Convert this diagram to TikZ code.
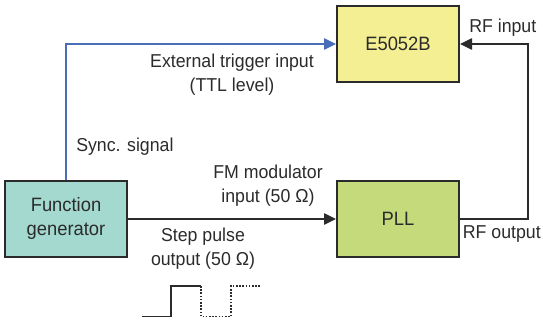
\documentclass[tikz,border=0pt]{standalone}
\usepackage{fontspec}
\setmainfont[FakeStretch=0.95]{Liberation Sans}
\usepackage{xcolor}
\usepackage{tikz}
\usetikzlibrary{arrows.meta,positioning}

\definecolor{boxline}{HTML}{2B2B2B}
\definecolor{analyzerfill}{HTML}{F3EF92}
\definecolor{pllfill}{HTML}{C5DA7B}
\definecolor{genfill}{HTML}{A4D9D0}
\definecolor{syncblue}{HTML}{4A6DB8}

\begin{document}
\begin{tikzpicture}[
    x=0.75pt, y=-0.75pt,
    block/.style={draw=boxline, line width=1.5pt, align=center, minimum width=91.5pt, minimum height=57pt, inner sep=0pt, text=boxline, font=\fontsize{14.5}{18}\selectfont},
    lbl/.style={align=center, inner sep=0pt, text=boxline, font=\fontsize{14}{18}\selectfont},
    arr/.style={-{Triangle[length=9pt,width=8.5pt]}, line width=1.1pt, draw=boxline}
]
\useasboundingbox (0,0) rectangle (543,321);

\node[block, fill=analyzerfill] (e5052b) at (398,44) {E5052B};
\node[block, fill=pllfill] (pll) at (398,219) {PLL};
\node[block, fill=genfill] (gen) at (66,219) {Function\\generator};

\draw[arr, color=syncblue] (gen.north) |- (e5052b.west);
\draw[arr] (gen.east) -- (pll.west);
\draw[arr] (pll.east) -- ++(68,0) |- (e5052b.east);

\node[lbl] (trig) at (232,75) {External trigger input\\(TTL level)};
\node[lbl, anchor=west] (sync) at (76,147) {Sync. signal};
\node[lbl] (fm) at (268,186) {FM modulator\\input (50 Ω)};
\node[lbl] (step) at (203,249) {Step pulse\\output (50 Ω)};
\node[lbl, anchor=west] (rfin) at (469,28) {RF input};
\node[lbl, anchor=east] (rfout) at (541,234) {RF output};

% step pulse sketch
\draw[line width=1.2pt, boxline] (142,316.5) -- (171,316.5) -- (171,286) -- (201,286);
\draw[line width=1.2pt, boxline, dash pattern=on 1.2pt off 1.2pt] (201,286) -- (201,316.5) -- (231,316.5) -- (231,286) -- (260,286);
\end{tikzpicture}
\end{document}
